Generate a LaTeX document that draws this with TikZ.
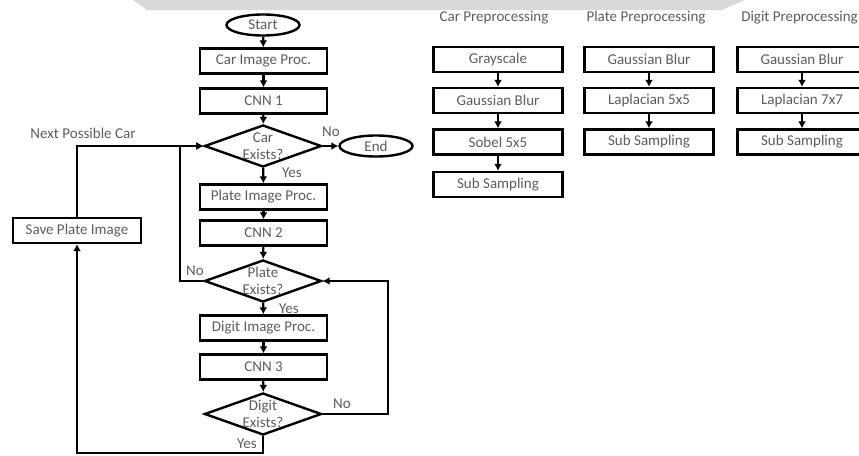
\documentclass[tikz,border=0pt]{standalone}
\usepackage{fontspec}
\setmainfont{Carlito}
\usetikzlibrary{shapes.geometric,arrows.meta}
\definecolor{txt}{gray}{0.36}
\definecolor{band}{gray}{0.85}
\begin{document}
\begin{tikzpicture}[x=1pt,y=-1pt,
  every node/.style={font=\fontsize{15}{18}\selectfont, text=txt},
  proc/.style={draw=black, line width=2.4pt, minimum width=127pt, minimum height=25pt, inner sep=0pt},
  pbox/.style={draw=black, line width=2.4pt, minimum width=129pt, minimum height=25pt, inner sep=0pt},
  term/.style={draw=black, ellipse, line width=2.4pt, minimum width=73pt, minimum height=21pt, inner sep=0pt},
  decis/.style={draw=black, diamond, line width=2.4pt, minimum width=117pt, minimum height=42pt, inner sep=0pt, aspect=2.8},
  arr/.style={draw=black, line width=2.2pt, -{Latex[length=7pt,width=8pt]}},
  lbl/.style={inner sep=0pt}
]
\useasboundingbox (0,0) rectangle (859,455);
\fill[band] (133,0) -- (745,0) -- (722,10) -- (147,10) -- cycle;

% main flow
\node[term] (start) at (263,25) {Start};
\node[proc] (carimg) at (263.5,61) {Car Image Proc.};
\node[proc] (cnn1) at (263.5,101) {CNN 1};
\node[decis, label={[align=center,font=\fontsize{15}{17}\selectfont]center:{Car\\Exists?}}] (carex) at (263,146) {};
\node[term] (end) at (376,146) {End};
\node[proc] (plateimg) at (263.5,197) {Plate Image Proc.};
\node[proc] (cnn2) at (263.5,233) {CNN 2};
\node[decis, label={[align=center,font=\fontsize{15}{17}\selectfont]center:{Plate\\Exists?}}] (plateex) at (263,281) {};
\node[proc] (digitimg) at (263.5,328) {Digit Image Proc.};
\node[proc] (cnn3) at (263.5,367) {CNN 3};
\node[decis, label={[align=center,font=\fontsize{15}{17}\selectfont]center:{Digit\\Exists?}}] (digitex) at (263,414) {};
\node[proc, minimum width=128pt] (save) at (77,230.5) {Save Plate Image};

\coordinate (jl) at (180,146);
\coordinate (jr) at (388,414);
\coordinate (jb) at (263,453);

\draw[arr] (start) -- (carimg);
\draw[arr] (carimg) -- (cnn1);
\draw[arr] (cnn1) -- (carex);
\draw[arr] (carex) -- (end);
\draw[arr] (carex) -- (plateimg);
\draw[arr] (plateimg) -- (cnn2);
\draw[arr] (cnn2) -- (plateex);
\draw[arr] (plateex) -- (digitimg);
\draw[arr] (digitimg) -- (cnn3);
\draw[arr] (cnn3) -- (digitex);
\draw[arr] (plateex.west) -| (jl) -- (carex.west);
\draw[arr] (digitex.east) -- (jr) |- (plateex.east);
\draw[arr] (digitex.south) -- (jb) -| (save.south);
\draw[arr] (save.north) |- (carex.west);

\node[lbl] at (331,132) {No};
\node[lbl] at (292,173) {Yes};
\node[lbl] at (195,271) {No};
\node[lbl] at (289,309) {Yes};
\node[lbl] at (342,404) {No};
\node[lbl] at (247,444) {Yes};
\node[lbl] at (83,133) {Next Possible Car};

% preprocessing columns
\node (t1) at (494,18) {Car Preprocessing};
\node (t2) at (646,18) {Plate Preprocessing};
\node[anchor=east, inner sep=0pt] (t3) at (858,18) {Digit Preprocessing};

\node[pbox] (c1) at (498,59.5) {Grayscale};
\node[pbox] (c2) at (498,100.5) {Gaussian Blur};
\node[pbox] (c3) at (498,142) {Sobel 5x5};
\node[pbox] (c4) at (498,184.5) {Sub Sampling};
\draw[arr] (c1) -- (c2);
\draw[arr] (c2) -- (c3);
\draw[arr] (c3) -- (c4);

\node[pbox] (p1) at (649,59.5) {Gaussian Blur};
\node[pbox] (p2) at (649,100.5) {Laplacian 5x5};
\node[pbox] (p3) at (649,142) {Sub Sampling};
\draw[arr] (p1) -- (p2);
\draw[arr] (p2) -- (p3);

\node[pbox] (d1) at (802,59.5) {Gaussian Blur};
\node[pbox] (d2) at (802,100.5) {Laplacian 7x7};
\node[pbox] (d3) at (802,142) {Sub Sampling};
\draw[arr] (d1) -- (d2);
\draw[arr] (d2) -- (d3);
\end{tikzpicture}
\end{document}
